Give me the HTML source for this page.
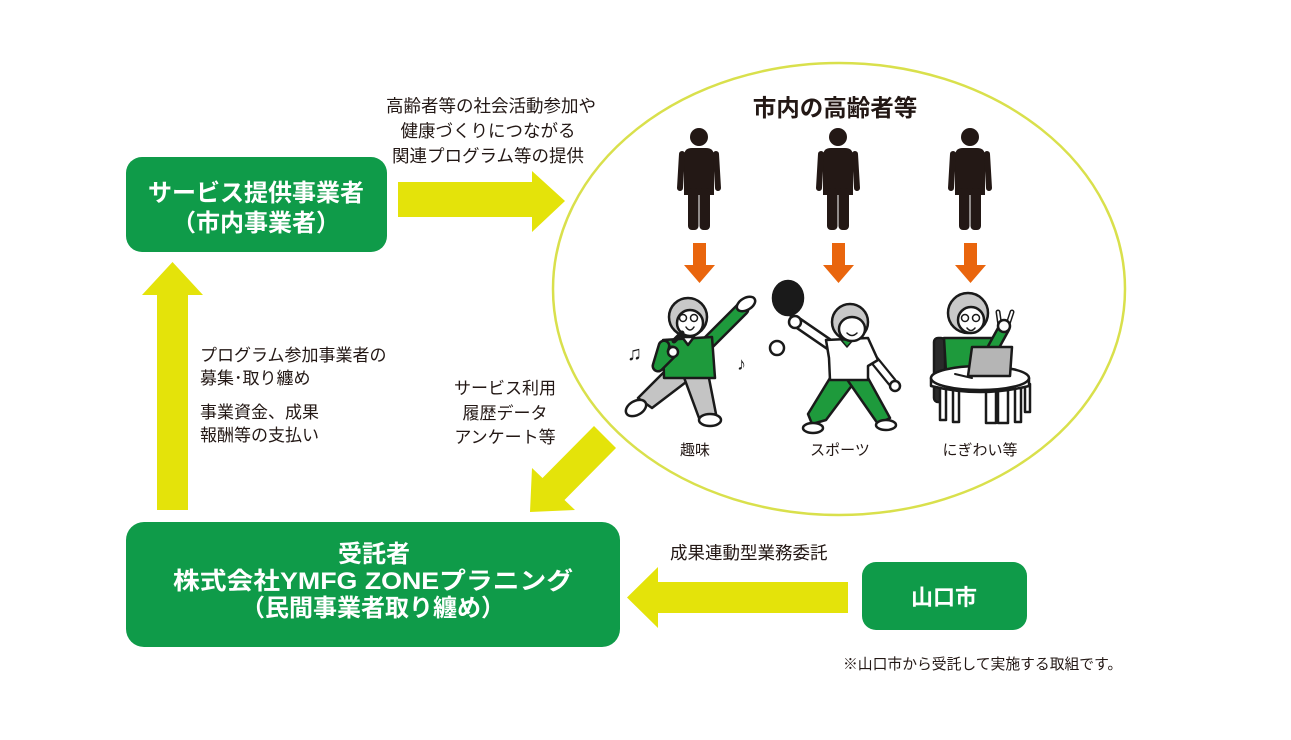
<!DOCTYPE html>
<html>
<head>
<meta charset="utf-8">
<style>
  html,body{margin:0;padding:0;background:#fff;}
  body{width:1291px;height:740px;overflow:hidden;}
  svg{display:block;}
  text{font-family:"Liberation Sans","Noto Sans CJK JP",sans-serif;}
  .w{fill:#fff;font-weight:bold;}
  .k{fill:#231815;}
</style>
</head>
<body>
<svg width="1291" height="740" viewBox="0 0 1291 740" xmlns="http://www.w3.org/2000/svg">
  <rect width="1291" height="740" fill="#fff"/>

  <!-- ellipse -->
  <ellipse cx="839" cy="289" rx="286" ry="226" fill="none" stroke="#d9e04c" stroke-width="2.5"/>

  <!-- Box 1 -->
  <rect x="126" y="157" width="261" height="95" rx="16" fill="#0f9b49"/>
  <text class="w" x="256" y="201" font-size="24" text-anchor="middle">サービス提供事業者</text>
  <text class="w" x="256" y="231" font-size="24" text-anchor="middle">（市内事業者）</text>

  <!-- Right arrow -->
  <polygon points="398,182 532,182 532,171 565,201 532,232 532,217 398,217" fill="#e4e30a"/>
  <text class="k" x="491" y="112" font-size="17.5" text-anchor="middle">高齢者等の社会活動参加や</text>
  <text class="k" x="488" y="137" font-size="17.5" text-anchor="middle">健康づくりにつながる</text>
  <text class="k" x="488" y="162" font-size="17.5" text-anchor="middle">関連プログラム等の提供</text>

  <!-- Up arrow -->
  <polygon points="157,510 157,295 142,295 172.5,262 203,295 188,295 188,510" fill="#e4e30a"/>
  <text class="k" x="200" y="361" font-size="17">プログラム参加事業者の</text>
  <text class="k" x="200" y="384" font-size="17">募集･取り纏め</text>
  <text class="k" x="200" y="418" font-size="17">事業資金、成果</text>
  <text class="k" x="200" y="441" font-size="17">報酬等の支払い</text>

  <!-- Diagonal arrow -->
  <polygon points="530,512 532,468 542.5,478 594,426 616,448 564.5,500 575,510" fill="#e4e30a"/>
  <text class="k" x="505" y="394" font-size="17" text-anchor="middle">サービス利用</text>
  <text class="k" x="505" y="419" font-size="17" text-anchor="middle">履歴データ</text>
  <text class="k" x="505" y="443" font-size="17" text-anchor="middle">アンケート等</text>

  <!-- Box 2 -->
  <rect x="126" y="522" width="494" height="125" rx="18" fill="#0f9b49"/>
  <text class="w" x="374" y="562" font-size="24" text-anchor="middle">受託者</text>
  <text class="w" x="373" y="589" font-size="24" text-anchor="middle" textLength="400" lengthAdjust="spacingAndGlyphs">株式会社YMFG ZONEプラニング</text>
  <text class="w" x="373" y="616" font-size="24" text-anchor="middle">（民間事業者取り纏め）</text>

  <!-- Left arrow -->
  <polygon points="848,582 658,582 658,567 627,597.5 658,628 658,613 848,613" fill="#e4e30a"/>
  <text class="k" x="670" y="559" font-size="17.5">成果連動型業務委託</text>

  <!-- Yamaguchi box -->
  <rect x="862" y="562" width="165" height="68" rx="14" fill="#0f9b49"/>
  <text class="w" x="944" y="605" font-size="22" text-anchor="middle">山口市</text>

  <text class="k" x="843" y="669" font-size="14.8">※山口市から受託して実施する取組です。</text>

  <!-- Title -->
  <text class="k" x="835" y="116" font-size="23.5" font-weight="bold" text-anchor="middle">市内の高齢者等</text>

  <!-- Silhouettes -->
  <g fill="#231815" stroke="#231815">
    <g id="p1">
      <circle cx="699" cy="137" r="9" stroke="none"/>
      <path d="M684,156 Q684,148 692,148 L706,148 Q714,148 714,156 L714,195 L684,195 Z" stroke="none"/>
      <line x1="682" y1="154" x2="680" y2="188" stroke-width="6" stroke-linecap="round"/>
      <line x1="716" y1="154" x2="718" y2="188" stroke-width="6" stroke-linecap="round"/>
      <rect x="688" y="188" width="10.5" height="42" rx="4" stroke="none"/>
      <rect x="699.5" y="188" width="10.5" height="42" rx="4" stroke="none"/>
    </g>
    <g>
      <circle cx="838" cy="137" r="9" stroke="none"/>
      <path d="M823,156 Q823,148 831,148 L845,148 Q853,148 853,156 L853,195 L823,195 Z" stroke="none"/>
      <line x1="821" y1="154" x2="819" y2="188" stroke-width="6" stroke-linecap="round"/>
      <line x1="855" y1="154" x2="857" y2="188" stroke-width="6" stroke-linecap="round"/>
      <rect x="827" y="188" width="10.5" height="42" rx="4" stroke="none"/>
      <rect x="838.5" y="188" width="10.5" height="42" rx="4" stroke="none"/>
    </g>
    <g>
      <circle cx="970" cy="137" r="9" stroke="none"/>
      <path d="M955,156 Q955,148 963,148 L977,148 Q985,148 985,156 L985,195 L955,195 Z" stroke="none"/>
      <line x1="953" y1="154" x2="951" y2="188" stroke-width="6" stroke-linecap="round"/>
      <line x1="987" y1="154" x2="989" y2="188" stroke-width="6" stroke-linecap="round"/>
      <rect x="959" y="188" width="10.5" height="42" rx="4" stroke="none"/>
      <rect x="970.5" y="188" width="10.5" height="42" rx="4" stroke="none"/>
    </g>
  </g>

  <!-- Orange arrows -->
  <g fill="#e9650d">
    <polygon points="693,243 706,243 706,265 715,265 699.5,283 684,265 693,265"/>
    <polygon points="832,243 845,243 845,265 854,265 838.5,283 823,265 832,265"/>
    <polygon points="964,243 977,243 977,265 986,265 970.5,283 955,265 964,265"/>
  </g>

  <!-- Illustration A: karaoke -->
  <g stroke="#1a1a1a" stroke-width="2.5" stroke-linejoin="round" stroke-linecap="round">
    <polygon points="668,368 694,376 652,408 638,398" fill="#c4c4c4"/>
    <polygon points="682,372 707,368 716,414 699,418" fill="#c4c4c4"/>
    <ellipse cx="636" cy="408" rx="11" ry="7" fill="#fff" transform="rotate(-30 636 408)"/>
    <ellipse cx="710" cy="420" rx="11" ry="6" fill="#fff"/>
    <line x1="706" y1="345" x2="742" y2="309" stroke-width="15"/>
    <line x1="706" y1="345" x2="742" y2="309" stroke="#1e9a3c" stroke-width="10"/>
    <polygon points="663,340 712,337 715,378 664,378" fill="#1e9a3c"/>
    <ellipse cx="746" cy="304" rx="10" ry="6" fill="#fff" transform="rotate(-30 746 304)"/>
    <path d="M664,346 L658,366 L672,352" fill="none" stroke-width="13"/>
    <path d="M664,346 L658,366 L672,352" fill="none" stroke="#1e9a3c" stroke-width="8"/>
    <polygon points="682,337 694,337 688,345" fill="#fff"/>
    <circle cx="688" cy="317" r="19" fill="#c8c8c8"/>
    <ellipse cx="690" cy="323" rx="13" ry="13" fill="#fff"/>
    <line x1="674" y1="341" x2="682" y2="333" stroke-width="5"/>
    <circle cx="673" cy="352" r="5" fill="#fff"/>
    <circle cx="683" cy="318" r="3.5" fill="none" stroke-width="1.5"/>
    <circle cx="694" cy="318" r="3.5" fill="none" stroke-width="1.5"/>
    <path d="M686,327 Q690,333 694,327" fill="#fff" stroke-width="1.5"/>
    <circle cx="777" cy="348" r="7" fill="#fff"/>
  </g>
  <text x="627" y="360" font-size="20" fill="#1a1a1a" font-family="DejaVu Sans">♫</text>
  <text x="737" y="370" font-size="18" fill="#1a1a1a" font-family="DejaVu Sans">♪</text>

  <!-- Illustration B: sports -->
  <g stroke="#1a1a1a" stroke-width="2.5" stroke-linejoin="round" stroke-linecap="round">
    <ellipse cx="788" cy="298" rx="15" ry="17" fill="#1a1a1a"/>
    <line x1="790" y1="310" x2="794" y2="322" stroke-width="5"/>
    <polygon points="830,378 856,380 826,420 812,424 808,414" fill="#1e9a3c"/>
    <polygon points="846,378 868,378 890,418 878,424" fill="#1e9a3c"/>
    <ellipse cx="813" cy="428" rx="10" ry="5" fill="#fff"/>
    <ellipse cx="886" cy="425" rx="10" ry="5" fill="#fff"/>
    <line x1="830" y1="345" x2="798" y2="323" stroke-width="12"/>
    <line x1="830" y1="345" x2="798" y2="323" stroke="#fff" stroke-width="7"/>
    <line x1="866" y1="350" x2="892" y2="382" stroke-width="10"/>
    <line x1="866" y1="350" x2="892" y2="382" stroke="#fff" stroke-width="5.5"/>
    <polygon points="826,340 868,338 878,360 868,366 868,380 830,380 829,358" fill="#fff"/>
    <circle cx="795" cy="322" r="6" fill="#fff"/>
    <circle cx="895" cy="386" r="5" fill="#fff"/>
    <polygon points="841,340 853,340 847,347" fill="#1e9a3c" stroke-width="1.5"/>
    <circle cx="850" cy="322" r="18" fill="#c8c8c8"/>
    <ellipse cx="852" cy="329" rx="13" ry="12" fill="#fff"/>
    <path d="M847,333 Q852,338 857,333" fill="none" stroke-width="1.5"/>
  </g>

  <!-- Illustration C: laptop -->
  <g stroke="#1a1a1a" stroke-width="2.5" stroke-linejoin="round" stroke-linecap="round">
    <rect x="934" y="338" width="11" height="64" rx="4" fill="#2a2a2a"/>
    <polygon points="944,338 998,338 1000,372 946,372" fill="#1e9a3c"/>
    <line x1="993" y1="348" x2="1004" y2="328" stroke-width="13"/>
    <line x1="993" y1="348" x2="1004" y2="328" stroke="#1e9a3c" stroke-width="8"/>
    <path d="M1000,326 L998,312 M1008,324 L1012,312" stroke-width="5"/>
    <path d="M1000,326 L998,312 M1008,324 L1012,312" stroke="#fff" stroke-width="2"/>
    <circle cx="1004" cy="326" r="6" fill="#fff"/>
    <circle cx="968" cy="313" r="20" fill="#c8c8c8"/>
    <ellipse cx="971" cy="320" rx="13" ry="13" fill="#fff"/>
    <circle cx="965" cy="318" r="3.5" fill="none" stroke-width="1.5"/>
    <circle cx="976" cy="318" r="3.5" fill="none" stroke-width="1.5"/>
    <path d="M967,328 Q971,333 975,328" fill="#fff" stroke-width="1.5"/>
    <rect x="986" y="385" width="10" height="38" fill="#fff"/>
    <rect x="998" y="385" width="10" height="38" fill="#fff"/>
    <rect x="940" y="386" width="6" height="34" fill="#fff"/>
    <rect x="953" y="388" width="6" height="34" fill="#fff"/>
    <rect x="1015" y="388" width="6" height="34" fill="#fff"/>
    <rect x="1025" y="384" width="5" height="28" fill="#fff"/>
    <path d="M931,378 L931,386 Q980,398 1029,386 L1029,378" fill="#fff"/>
    <ellipse cx="980" cy="378" rx="49" ry="12" fill="#fff"/>
    <polygon points="972,347 1012,347 1010,376 968,376" fill="#b5b5b5"/>
    <line x1="955" y1="374" x2="972" y2="378" stroke-width="2"/>
  </g>

  <!-- Illustration labels -->
  <text class="k" x="695" y="455" font-size="15" text-anchor="middle">趣味</text>
  <text class="k" x="840" y="455" font-size="15" text-anchor="middle">スポーツ</text>
  <text class="k" x="980" y="455" font-size="15" text-anchor="middle">にぎわい等</text>
</svg>
</body>
</html>
